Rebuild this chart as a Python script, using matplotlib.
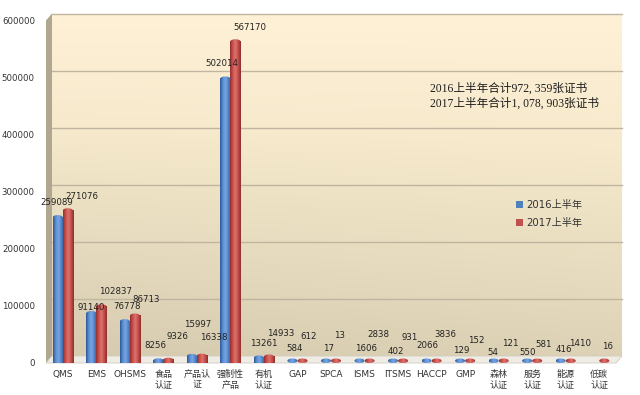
import numpy as np
import matplotlib
matplotlib.use('Agg')
import matplotlib.pyplot as plt
from matplotlib.colors import LinearSegmentedColormap
from matplotlib.patches import Polygon, Ellipse
from matplotlib import transforms

# ---------------- data ----------------
categories = ['QMS', 'EMS', 'OHSMS', '食品\n认证', '产品认\n证', '强制性\n产品', '有机\n认证',
              'GAP', 'SPCA', 'ISMS', 'ITSMS', 'HACCP', 'GMP', '森林\n认证', '服务\n认证',
              '能源\n认证', '低碳\n认证']
v2016 = [259089, 91140, 76778, 8256, 15997, 502014, 13261, 584, 17, 1606, 402, 2066,
         129, 54, 550, 416, np.nan]
v2017 = [271076, 102837, 86713, 9326, 16338, 567170, 14933, 612, 13, 2838, 931, 3836,
         152, 121, 581, 1410, 16]
series_names = ['2016上半年', '2017上半年']
yticks = [0, 100000, 200000, 300000, 400000, 500000, 600000]
note_lines = ['2016上半年合计972, 359张证书', '2017上半年合计1, 078, 903张证书']

# label offsets (pixels) - style only
dy16 = [13, 3, 13, 13, 29, 13, 12, 14, 14, 14, 11, 16, 12, 10, 10, 13, 0]
dy17 = [12, 13, 14, 21, 16, 12, 21, 26, 27, 27, 25, 26, 22, 19, 18, 19, 16]
dx16 = [-6, -5, -3, -8, 1, -9, 0, -3, -2, 1, -2, -4, -4, -6, -5, -2, 0]

# ---------------- style ----------------
plt.rcParams['font.family'] = ['DejaVu Sans', 'Noto Sans CJK SC']
W, H = 640, 395
fig = plt.figure(figsize=(W / 100, H / 100), dpi=100)
fig.patch.set_facecolor('white')


def P(x, y):
    return (x / W, 1 - y / H)


# plot geometry (pixels)
L, R, T, B = 46, 616, 20.5, 363
DX, DY = 6, 7   # 3D depth offset

# back wall gradient
bg = fig.add_axes([(L + DX) / W, (H - (B - DY)) / H, (R - L) / W, (B - T) / H], zorder=-3)
ny, nx = 200, 200
yy, xx = np.mgrid[0:1:ny * 1j, 0:1:nx * 1j]
t = np.clip(0.85 * yy + 0.15 * (1 - xx) * yy, 0, 1)
bgcmap = LinearSegmentedColormap.from_list('bg', ['#FEF1D6', '#F6E9CC', '#E6DBBE', '#D6CBAE'])
bg.imshow(t, cmap=bgcmap, aspect='auto', extent=(0, 1, 1, 0), vmin=0, vmax=1)
bg.set_axis_off()

# left side wall
fig.add_artist(Polygon([P(L, T), P(L + DX, T - DY), P(L + DX, B - DY), P(L, B)],
                       closed=True, transform=fig.transFigure, facecolor='#B1A68F',
                       edgecolor='none', zorder=-2))
# floor
fig.add_artist(Polygon([P(L, B), P(L + DX, B - DY), P(R + DX, B - DY), P(R, B)],
                       closed=True, transform=fig.transFigure, facecolor='#EFECE4',
                       edgecolor='#D0CCC2', linewidth=0.6, zorder=-2))

ax = fig.add_axes([L / W, (H - B) / H, (R - L) / W, (B - T) / H], zorder=1)
ax.patch.set_alpha(0)
n = len(categories)
x = np.arange(n)
bw = 0.3
ax.set_xlim(-0.5, n - 0.5)
ax.set_ylim(0, 600000)

# gridlines on back wall (offset by depth)
gtrans = transforms.offset_copy(transforms.blended_transform_factory(ax.transAxes, ax.transData),
                                fig=fig, x=DX, y=DY, units='dots')
for v in yticks[1:]:
    ax.plot([0, 1], [v, v], transform=gtrans, color='#BFB5A0', lw=1.0, zorder=0.5,
            clip_on=False)

blue_cmap = LinearSegmentedColormap.from_list('b', ['#2C5796', '#5A8DD2', '#79A6E2', '#5585C8', '#2E5A98'])
red_cmap = LinearSegmentedColormap.from_list('r', ['#93302D', '#C9504C', '#DD736F', '#C24D49', '#8E2F2C'])
grad = np.linspace(0, 1, 64).reshape(1, -1)

axes_h_px = B - T
cap = 4.5 * 600000 / axes_h_px


def draw_bars(vals, offs, color, cmap, label):
    cont = ax.bar(x + offs, vals, bw, color=color, label=label, zorder=2, linewidth=0)
    for p in cont.patches:
        h = p.get_height()
        if not np.isfinite(h):
            continue
        x0, w = p.get_x(), p.get_width()
        body = max(h - cap / 2, 0)
        p.set_height(body)
        if body > 0:
            ax.imshow(grad, cmap=cmap, extent=(x0, x0 + w, 0, body), aspect='auto',
                      zorder=2.1, interpolation='bilinear')
        cy = max(h - cap / 2, cap / 2)
        e = Ellipse((x0 + w / 2, cy), w, cap, transform=ax.transData, facecolor='none',
                    edgecolor='none')
        ax.add_patch(e)
        im = ax.imshow(grad, cmap=cmap, extent=(x0, x0 + w, cy - cap / 2, cy + cap / 2),
                       aspect='auto', zorder=2.2, interpolation='bilinear')
        im.set_clip_path(e)
    return cont


draw_bars(v2016, -bw / 2, '#4F81BD', blue_cmap, series_names[0])
draw_bars(v2017, bw / 2, '#C0504D', red_cmap, series_names[1])
ax.set_xlim(-0.5, n - 0.5)
ax.set_ylim(0, 600000)

# data labels
for i in range(n):
    if np.isfinite(v2016[i]):
        ax.annotate(f'{v2016[i]:.0f}', (x[i], v2016[i]), xytext=(dx16[i], dy16[i]),
                    textcoords='offset pixels', ha='center', va='center', fontsize=6.2,
                    color='#222222', zorder=5)
    if np.isfinite(v2017[i]):
        ax.annotate(f'{v2017[i]:.0f}', (x[i], v2017[i]), xytext=(3, dy17[i]),
                    textcoords='offset pixels', ha='left', va='center', fontsize=6.2,
                    color='#222222', zorder=5)

ax.set_yticks(yticks)
ax.set_yticklabels([str(v) for v in yticks], fontsize=6.2, color='#333333')
ax.set_xticks(x)
ax.set_xticklabels(categories, fontsize=6.5, color='#333333', linespacing=1.2)
ax.tick_params(axis='both', length=0)
ax.tick_params(axis='y', pad=8)
ax.tick_params(axis='x', pad=5)
for s in ax.spines.values():
    s.set_visible(False)

leg = ax.legend(loc='upper left', bbox_to_anchor=P(512, 196), bbox_transform=fig.transFigure,
                frameon=False, fontsize=7.3, handlelength=0.7, handleheight=0.7,
                handletextpad=0.3, labelspacing=0.8, borderaxespad=0)
for txt in leg.get_texts():
    txt.set_color('#333333')

for k, line in enumerate(note_lines):
    fig.text(430 / W, 1 - (89 + 15 * k) / H, line, fontsize=8.4, va='center', ha='left',
             family=['Liberation Serif', 'Noto Sans CJK SC'], color='#1E1E1E')

fig.savefig('out.png', dpi=100)
